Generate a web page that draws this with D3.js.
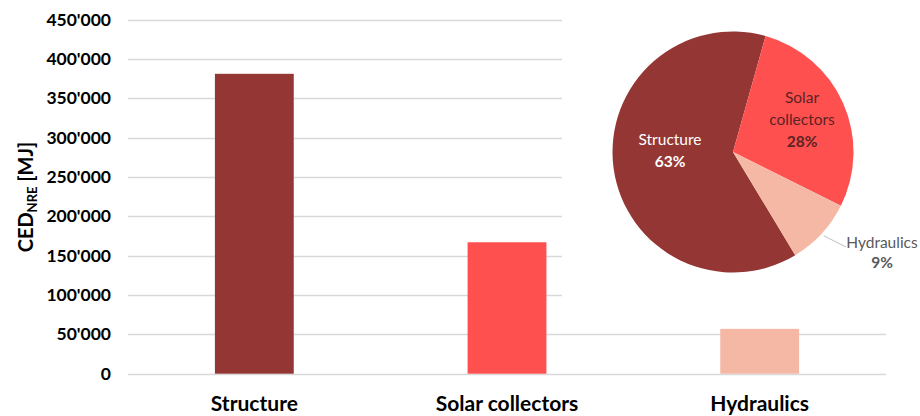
<!DOCTYPE html>
<html>
<head>
<meta charset="utf-8">
<script src="https://cdn.jsdelivr.net/npm/d3@7"></script>
<style>
  html, body { margin: 0; padding: 0; background: #fff; }
  svg { display: block; font-family: Lato, "Open Sans", sans-serif; }
</style>
</head>
<body>
<svg id="chart" width="920" height="416"></svg>
<script>
// Cumulative non-renewable energy demand per component
const categories = ["Structure", "Solar collectors", "Hydraulics"];
const cedValues = [381000, 167000, 57000];
const barColors = ["#943634", "#FF5050", "#F4B8A4"];
const yTicks = [0, 50000, 100000, 150000, 200000, 250000, 300000, 350000, 400000, 450000];

// Shares shown in the inset pie (percent)
const pieLabels = [["Structure"], ["Solar", "collectors"], ["Hydraulics"]];
const pieShares = [63, 28, 9];

const svg = d3.select("#chart");

const x = d3.scaleBand()
  .domain(categories)
  .range([128, 886])
  .paddingInner(0.688)
  .paddingOuter(0.344);

const y = d3.scaleLinear()
  .domain([0, 450000])
  .range([373.7, 19.5]);

const fmt = v => d3.format(",")(v).replace(/,/g, "'");

// gridlines
svg.append("g")
  .selectAll("line")
  .data(yTicks)
  .join("line")
  .attr("x1", x.range()[0])
  .attr("x2", x.range()[1])
  .attr("y1", d => Math.round(y(d)) + 0.5)
  .attr("y2", d => Math.round(y(d)) + 0.5)
  .attr("stroke", "#d9d9d9")
  .attr("stroke-width", 1.3);

// y axis labels
const yAxis = d3.axisLeft(y).tickValues(yTicks).tickFormat(fmt).tickSize(0).tickPadding(0);
const yg = svg.append("g").attr("transform", "translate(111,0)").call(yAxis);
yg.select(".domain").remove();
yg.selectAll("text")
  .attr("font-family", "Lato, sans-serif")
  .attr("font-weight", 700)
  .attr("font-size", 17.5)
  .attr("fill", "#000");

// y axis title
const title = svg.append("text")
  .attr("transform", "translate(33,197) rotate(-90)")
  .attr("text-anchor", "middle")
  .attr("font-weight", 700)
  .attr("font-size", 20)
  .attr("fill", "#000");
title.append("tspan").text("CED");
title.append("tspan").attr("font-size", 13).attr("dy", 4).text("NRE");
title.append("tspan").attr("dy", -4).text(" [MJ]");

// bars
svg.append("g")
  .selectAll("rect")
  .data(categories)
  .join("rect")
  .attr("x", d => x(d))
  .attr("width", x.bandwidth())
  .attr("y", (d, i) => y(cedValues[i]))
  .attr("height", (d, i) => y(0) - y(cedValues[i]))
  .attr("fill", (d, i) => barColors[i]);

// x axis labels
const xAxis = d3.axisBottom(x).tickSize(0).tickPadding(0);
const xg = svg.append("g").attr("transform", "translate(0,411)").call(xAxis);
xg.select(".domain").remove();
xg.selectAll("text")
  .attr("font-family", "Lato, sans-serif")
  .attr("font-weight", 700)
  .attr("font-size", 21)
  .attr("fill", "#000")
  .attr("dy", 0);

// inset pie on its own white panel
svg.append("rect")
  .attr("x", 562).attr("y", 0)
  .attr("width", 358).attr("height", 312)
  .attr("fill", "#fff");

const cx = 733, cy = 152, r = 120.5;
const startA = 148.9 * Math.PI / 180;
const pie = d3.pie().sort(null).startAngle(startA).endAngle(startA + 2 * Math.PI);
const arcs = pie(pieShares);
const arc = d3.arc().innerRadius(0).outerRadius(r);

const pg = svg.append("g").attr("transform", `translate(${cx},${cy})`);
pg.selectAll("path")
  .data(arcs)
  .join("path")
  .attr("d", arc)
  .attr("fill", (d, i) => barColors[i]);

// pie labels
const labelPos = [[-63, -7], [69, -49], [149, 96]];
const labelGap = [22, 22, 20];
const labelColors = ["#ffffff", "#5b2323", "#595959"];
arcs.forEach((a, i) => {
  const t = pg.append("text")
    .attr("x", labelPos[i][0])
    .attr("y", labelPos[i][1])
    .attr("text-anchor", "middle")
    .attr("font-size", 15.5)
    .attr("fill", labelColors[i]);
  pieLabels[i].forEach((line, k) => {
    t.append("tspan").attr("x", labelPos[i][0]).attr("dy", k === 0 ? 0 : labelGap[i]).text(line);
  });
  t.append("tspan")
    .attr("x", labelPos[i][0])
    .attr("dy", labelGap[i])
    .attr("font-weight", 700)
    .text(pieShares[i] + "%");
});

// leader line for the small slice
const hyd = arcs[2];
const mid = (hyd.startAngle + hyd.endAngle) / 2;
const p0 = [Math.sin(mid) * (r + 3), -Math.cos(mid) * (r + 3)];
pg.append("line")
  .attr("x1", p0[0]).attr("y1", p0[1])
  .attr("x2", 113).attr("y2", 95)
  .attr("stroke", "#bfbfbf")
  .attr("stroke-width", 1);
</script>
</body>
</html>
